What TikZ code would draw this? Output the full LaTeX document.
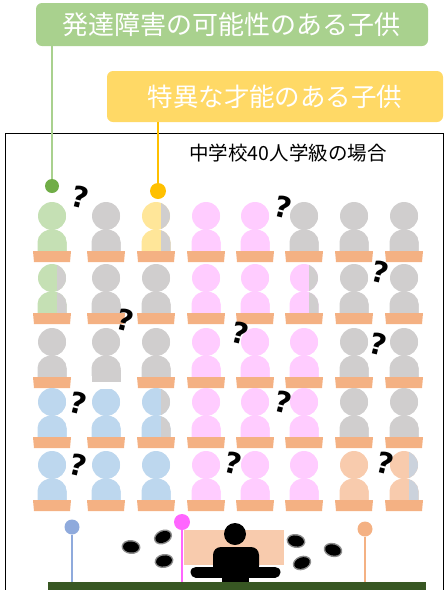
\documentclass[tikz,border=0pt]{standalone}
\usepackage{fontspec}
\setmainfont{Noto Sans CJK JP}
\newfontfamily\qfont{DejaVu Sans}

\definecolor{kidGreen}{HTML}{C5E0B4}
\definecolor{kidGray}{HTML}{D0CECE}
\definecolor{kidYellow}{HTML}{FFE699}
\definecolor{kidPink}{HTML}{FFCCFF}
\definecolor{kidBlue}{HTML}{BDD7EE}
\definecolor{kidPeach}{HTML}{F8CBAD}
\definecolor{kidSteel}{HTML}{CBD2DC}
\definecolor{deskOrange}{HTML}{F4B183}
\definecolor{boxGreen}{HTML}{A9D18E}
\definecolor{boxYellow}{HTML}{FFD966}
\definecolor{dotGreen}{HTML}{70AD47}
\definecolor{dotYellow}{HTML}{FFC000}
\definecolor{pinBlue}{HTML}{8FAADC}
\definecolor{pinPink}{HTML}{FF66FF}
\definecolor{floorGreen}{HTML}{385723}

\tikzset{
  titlebox/.style={rounded corners=6, inner sep=0, text=white},
  pindot/.style={circle, inner sep=0, minimum size=#1},
  qmark/.style={font=\qfont\bfseries\fontsize{29}{29}\selectfont, rotate=-14, inner sep=0},
}

% one seat: x, head y, left colour, right colour
\newcommand{\pupilshape}[3]{%
  \fill[#3] (#1,#2) circle[radius=14];
  \fill[#3] (#1-14.5,#2+36) -- (#1-14.5,#2+26)
    arc[start angle=180, end angle=360, x radius=14.5, y radius=12.5] -- (#1+14.5,#2+36) -- cycle;
}
\newcommand{\pupil}[4]{%
  \pupilshape{#1}{#2}{#3}
  \begin{scope}
    \clip (#1+5,#2-16) rectangle (#1+16,#2+37);
    \pupilshape{#1}{#2}{#4}
  \end{scope}
  \fill[deskOrange] (#1-19,#2+35) -- (#1+19,#2+35) -- (#1+18,#2+46) -- (#1-18,#2+46) -- cycle;
}
% blurred ink spot
\newcommand{\blot}[3]{%
  \fill[black, opacity=.45, rotate around={#3:(#1,#2)}] (#1,#2) ellipse[x radius=9.5, y radius=7];
  \fill[black, rotate around={#3:(#1,#2)}] (#1,#2) ellipse[x radius=8, y radius=5.5];
}
\def\seatx{{52,106,156,206,255,304,354,404}}

\begin{document}
\begin{tikzpicture}[x=1pt, y=-1pt]
  \useasboundingbox (0,0) rectangle (444,590);

  % classroom frame
  \draw[line width=0.8] (5,600) -- (5,133) -- (443,133) -- (443,600);
  \node (cls) at (288,153) {\fontsize{19.5}{20}\selectfont 中学校40人学級の場合};

  % seats, row by row
  \foreach \cl/\cr [count=\c] in {kidGreen/kidGreen, kidGray/kidGray, kidYellow/kidGray, kidPink/kidPink,
      kidPink/kidPink, kidGray/kidGray, kidGray/kidGray, kidGray/kidGray} {
    \pgfmathsetmacro\px{\seatx[\c-1]}
    \pupil{\px}{216}{\cl}{\cr}
  }
  \foreach \cl/\cr [count=\c] in {kidGreen/kidGray, kidGray/kidGray, kidGray/kidGray, kidPink/kidPink,
      kidPink/kidPink, kidPink/kidGray, kidGray/kidGray, kidGray/kidGray} {
    \pgfmathsetmacro\px{\seatx[\c-1]}
    \pupil{\px}{278}{\cl}{\cr}
  }
  \foreach \cl/\cr [count=\c] in {kidGray/kidGray, kidGray/kidGray, kidGray/kidGray, kidPink/kidPink,
      kidPink/kidPink, kidPink/kidPink, kidGray/kidGray, kidGray/kidGray} {
    \pgfmathsetmacro\px{\seatx[\c-1]}
    \pupil{\px}{342}{\cl}{\cr}
  }
  \foreach \cl/\cr [count=\c] in {kidBlue/kidBlue, kidBlue/kidBlue, kidBlue/kidGray, kidPink/kidPink,
      kidPink/kidPink, kidPink/kidPink, kidGray/kidGray, kidGray/kidGray} {
    \pgfmathsetmacro\px{\seatx[\c-1]}
    \pupil{\px}{402}{\cl}{\cr}
  }
  \foreach \cl/\cr [count=\c] in {kidBlue/kidBlue, kidBlue/kidBlue, kidBlue/kidBlue, kidPink/kidPink,
      kidPink/kidPink, kidPink/kidPink, kidPeach/kidPeach, kidPeach/kidSteel} {
    \pgfmathsetmacro\px{\seatx[\c-1]}
    \pupil{\px}{465}{\cl}{\cr}
  }
  % this seat has no desk
  \fill[white] (86,376) rectangle (126,389);
  \fill[kidGray] (91.5,370) rectangle (120.5,382);

  % question marks
  \node[qmark] (q1) at (80,197) {?};
  \node[qmark] (q2) at (283,207) {?};
  \node[qmark] (q3) at (380,272) {?};
  \node[qmark] (q4) at (125,320) {?};
  \node[qmark] (q5) at (240,333) {?};
  \node[qmark] (q6) at (378,344) {?};
  \node[qmark] (q7) at (78,403) {?};
  \node[qmark] (q8) at (283,402) {?};
  \node[qmark] (q9) at (78,465) {?};
  \node[qmark] (q10) at (233,463) {?};
  \node[qmark] (q11) at (385,463) {?};

  % labels and their pins
  \node[titlebox, fill=boxGreen, minimum width=392, minimum height=43] (dev) at (232,24.5)
    {\fontsize{26}{26}\selectfont 発達障害の可能性のある子供};
  \node[titlebox, fill=boxYellow, minimum width=336, minimum height=51] (gift) at (275,96.5)
    {\fontsize{25.5}{26}\selectfont 特異な才能のある子供};
  \node[pindot=14, fill=dotGreen] (gdot) at (52,186) {};
  \node[pindot=16, fill=dotYellow] (ydot) at (158,191) {};
  \draw[boxGreen, line width=1.5] (dev.south -| gdot) -- (gdot);
  \draw[dotYellow, line width=1.5] (gift.south -| ydot) -- (ydot);

  % teacher at the front
  \fill[kidPeach] (184,530) rectangle (284,565);
  \fill (235,534) circle[radius=11];
  \fill[rounded corners=8] (213,574) -- (213,547) -- (259,547) -- (259,574) -- cycle;
  \fill (222,565) rectangle (249,582);
  \draw[line width=11, line cap=round] (196,572) -- (222,572);
  \draw[line width=11, line cap=round] (249,572) -- (275,572);
  \blot{131}{547}{-5}
  \blot{163}{537}{25}
  \blot{164}{561}{10}
  \blot{296}{541}{-10}
  \blot{333}{550}{-15}
  \blot{302}{563}{20}

  % floor and the pins standing on it
  \node[fill=floorGreen, inner sep=0, minimum width=378, minimum height=10, anchor=north west] (floor) at (48,582) {};
  \node[pindot=15, fill=pinBlue] (bpin) at (72,527) {};
  \node[pindot=16, fill=pinPink] (ppin) at (182,522) {};
  \node[pindot=15, fill=deskOrange] (opin) at (365,529) {};
  \draw[pinBlue, line width=1.5] (bpin) -- (bpin |- floor.north);
  \draw[pinPink, line width=1.5] (ppin) -- (ppin |- floor.north);
  \draw[deskOrange, line width=1.5] (opin) -- (opin |- floor.north);
\end{tikzpicture}
\end{document}
